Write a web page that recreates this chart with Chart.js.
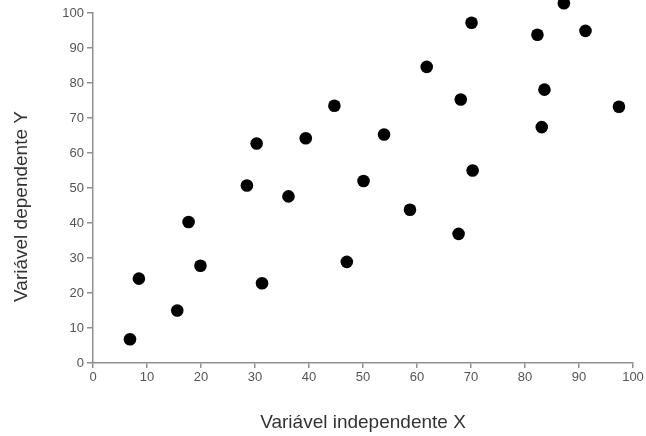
<!DOCTYPE html>
<html>
<head>
<meta charset="utf-8">
<script src="https://cdn.jsdelivr.net/npm/chart.js@4"></script>
<style>
  html, body { margin: 0; padding: 0; background: #fff; }
  #wrap { width: 646px; height: 436px; }
</style>
</head>
<body>
<div id="wrap"><canvas id="myChart"></canvas></div>
<script>
// values
const xValues = [6.85, 8.5, 15.6, 19.9, 31.3, 17.7, 28.5, 30.3, 36.2, 39.4, 44.7, 47.0, 50.1,
  53.9, 58.7, 61.8, 67.7, 68.1, 70.1, 70.3, 82.3, 87.2, 91.2, 83.6, 83.1, 97.4];
const yValues = [6.8, 24.1, 15.0, 27.8, 22.8, 40.3, 50.7, 62.7, 47.6, 64.2, 73.5, 28.9, 52.0,
  65.3, 43.8, 84.6, 36.9, 75.3, 97.2, 55.0, 93.8, 102.8, 94.9, 78.1, 67.4, 73.2];
const xTitle = 'Variável independente X';
const yTitle = 'Variável dependente Y';

const points = xValues.map((x, i) => ({ x: x, y: yValues[i] }));

const axisGray = '#8f8f8f';
const tickFont = { family: "'Liberation Sans', Arial, sans-serif", size: 13 };
const titleFont = { family: "'Liberation Sans', Arial, sans-serif", size: 19 };

const ctx = document.getElementById('myChart');
new Chart(ctx, {
  type: 'scatter',
  data: {
    datasets: [{
      label: 'dados',
      data: points,
      pointRadius: 6.3,
      pointHoverRadius: 6.3,
      // invisible wide border so the point above 100 is still drawn
      borderWidth: 12,
      borderColor: 'rgba(0,0,0,0)',
      backgroundColor: '#000',
      clip: false
    }]
  },
  options: {
    responsive: true,
    maintainAspectRatio: false,
    animation: false,
    devicePixelRatio: 1,
    layout: { autoPadding: false, padding: { top: 13, right: 13, left: 0, bottom: 0 } },
    scales: {
      x: {
        type: 'linear',
        min: 0,
        max: 100,
        afterFit: function(scale) { scale.height = 73; },
        ticks: { stepSize: 10, color: '#555', font: tickFont, padding: 2, maxRotation: 0 },
        grid: { display: true, drawOnChartArea: false, drawTicks: true, tickLength: 5, color: axisGray, lineWidth: 1.5 },
        border: { display: true, color: axisGray, width: 1.5 },
        title: { display: true, text: xTitle, color: '#333', font: titleFont, padding: { top: 0, bottom: 2 } }
      },
      y: {
        type: 'linear',
        min: 0,
        max: 100,
        afterFit: function(scale) { scale.width = 93; },
        ticks: { stepSize: 10, color: '#555', font: tickFont, padding: 3 },
        grid: { display: true, drawOnChartArea: false, drawTicks: true, tickLength: 6, color: axisGray, lineWidth: 1.5 },
        border: { display: true, color: axisGray, width: 1.5 },
        // trailing spaces push the label a bit lower, like the original
        title: { display: true, text: yTitle + '\u00A0\u00A0\u00A0\u00A0\u00A0\u00A0\u00A0', color: '#333', font: titleFont, padding: { top: 10, bottom: 0 } }
      }
    },
    plugins: {
      legend: { display: false },
      tooltip: { enabled: false }
    }
  }
});
</script>
</body>
</html>
